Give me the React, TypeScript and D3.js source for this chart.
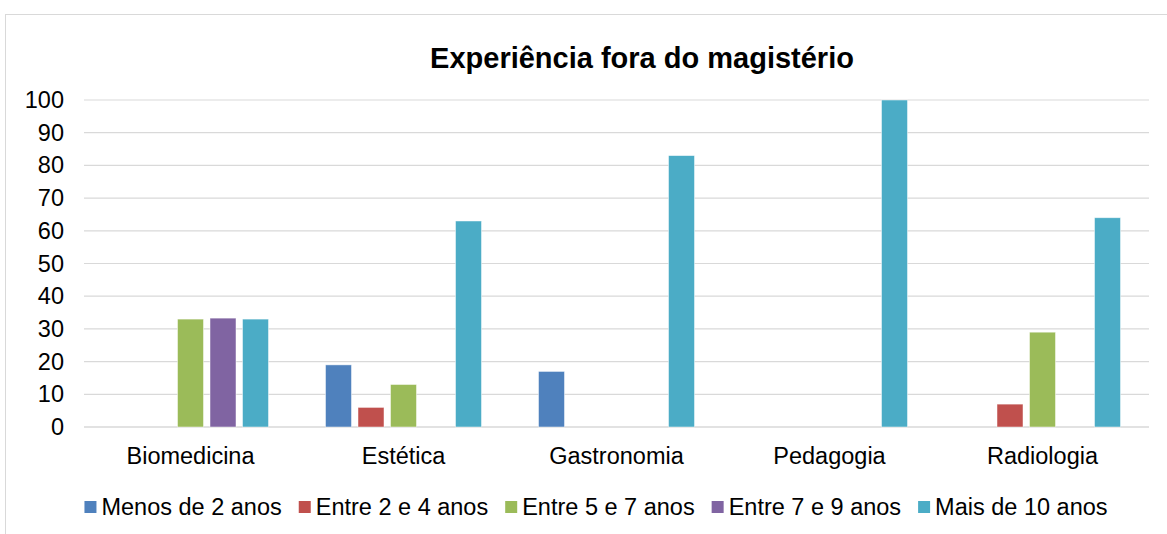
import React, { useMemo } from "react";
import * as d3 from "d3";

const title = "Experiência fora do magistério";
const categories = ["Biomedicina", "Estética", "Gastronomia", "Pedagogia", "Radiologia"];
const seriesNames = ["Menos de 2 anos", "Entre 2 e 4 anos", "Entre 5 e 7 anos", "Entre 7 e 9 anos", "Mais de 10 anos"];
const seriesColors = ["#4F81BD", "#C0504D", "#9BBB59", "#8064A2", "#4BACC6"];
const menos2 = [0, 19, 17, 0, 0];
const entre2e4 = [0, 6, 0, 0, 7];
const entre5e7 = [33, 13, 0, 0, 29];
const entre7e9 = [33.3, 0, 0, 0, 0];
const mais10 = [33, 63, 83, 100, 64];
const seriesValues = [menos2, entre2e4, entre5e7, entre7e9, mais10];
const yTicks = [0, 10, 20, 30, 40, 50, 60, 70, 80, 90, 100];

const W = 1167;
const H = 534;
const FONT = "'Liberation Sans', Arial, sans-serif";
const FS = 23.5;

function measure(text: string, font: string): number {
  const c = document.createElement("canvas");
  const ctx = c.getContext("2d");
  if (!ctx) return text.length * 11;
  ctx.font = font;
  return ctx.measureText(text).width;
}

export default function App() {
  const plot = { left: 84, right: 1149, top: 100, bottom: 427 };
  const x0 = d3.scaleBand<string>().domain(categories).range([plot.left, plot.right]).paddingInner(0).paddingOuter(0);
  const x1 = d3
    .scaleBand<string>()
    .domain(seriesNames)
    .range([0, x0.bandwidth()])
    .paddingInner(0.2)
    .paddingOuter(0.877);
  const y = d3.scaleLinear().domain([0, 100]).range([plot.bottom, plot.top]);

  const legend = useMemo(() => {
    const font = `${FS}px ${FONT}`;
    const sq = 12;
    const gapText = 5;
    const gapItem = 17;
    const items = seriesNames.map((n) => ({ name: n, w: sq + gapText + measure(n, font) }));
    const total = items.reduce((s, it) => s + it.w, 0) + gapItem * (items.length - 1);
    let xx = (80 + 1112) / 2 - total / 2;
    return items.map((it, i) => {
      const r = { ...it, x: xx, color: seriesColors[i] };
      xx += it.w + gapItem;
      return r;
    });
  }, []);

  return (
    <svg width={W} height={H} style={{ position: "absolute", left: 0, top: 0, background: "#fff" }} fontFamily={FONT}>
      <rect x={5.5} y={14.5} width={1300} height={700} fill="#fff" stroke="#D9D9D9" strokeWidth={1} />
      <text x={642} y={60} textAnchor="middle" dominantBaseline="middle" fontSize={29} fontWeight="bold" fill="#000">
        {title}
      </text>
      {yTicks.map((t) => (
        <g key={t}>
          <line x1={plot.left} x2={plot.right} y1={y(t)} y2={y(t)} stroke="#D9D9D9" strokeWidth={t === 0 ? 1.5 : 1.2} />
          <text x={64} y={y(t)} textAnchor="end" dominantBaseline="central" fontSize={FS} fill="#000">
            {t}
          </text>
        </g>
      ))}
      {categories.map((c, ci) => (
        <g key={c}>
          {seriesNames.map((s, si) => {
            const v = seriesValues[si][ci];
            if (!v) return null;
            return (
              <rect
                key={s}
                x={(x0(c) ?? 0) + (x1(s) ?? 0)}
                y={y(v)}
                width={x1.bandwidth()}
                height={y(0) - y(v)}
                fill={seriesColors[si]}
                stroke="#fff"
                strokeOpacity={0.6}
                strokeWidth={0.8}
              />
            );
          })}
          <text x={(x0(c) ?? 0) + x0.bandwidth() / 2} y={456} textAnchor="middle" dominantBaseline="central" fontSize={FS} fill="#000">
            {c}
          </text>
        </g>
      ))}
      {legend.map((it) => (
        <g key={it.name}>
          <rect x={it.x} y={501} width={12} height={12} fill={it.color} />
          <text x={it.x + 17} y={507} dominantBaseline="central" fontSize={FS} fill="#000">
            {it.name}
          </text>
        </g>
      ))}
    </svg>
  );
}
